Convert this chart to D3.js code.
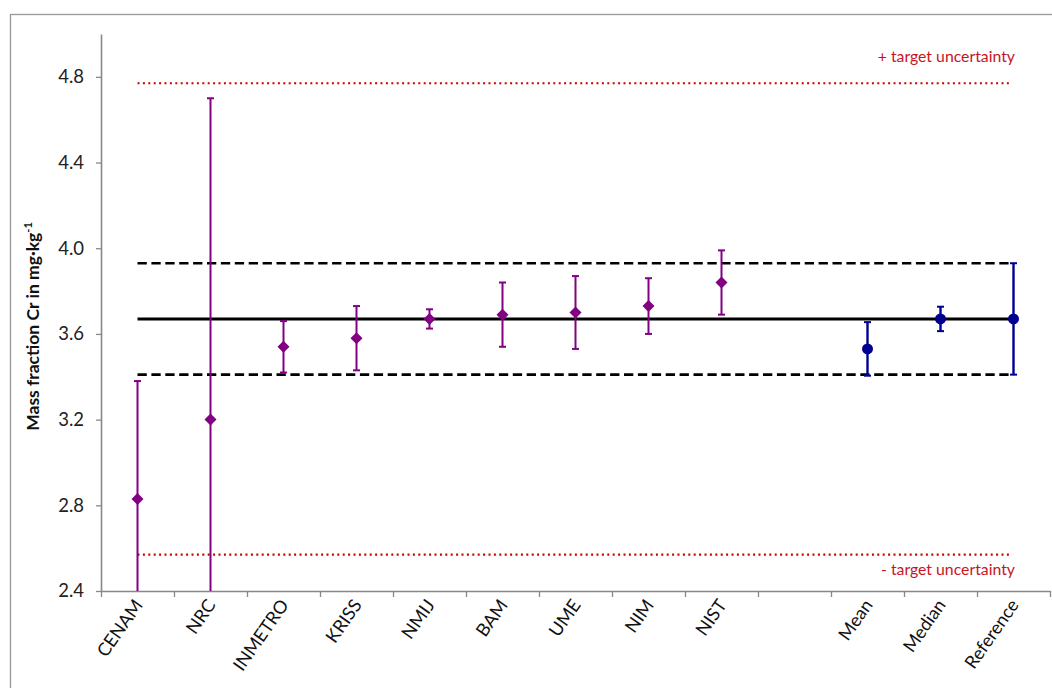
<!DOCTYPE html>
<html>
<head>
<meta charset="utf-8">
<script src="https://cdn.jsdelivr.net/npm/d3@7"></script>
<style>
  html, body { margin: 0; padding: 0; background: #fff; }
  svg { display: block; font-family: Lato, "Open Sans", sans-serif; }
</style>
</head>
<body>
<svg id="chart" width="1052" height="688"></svg>
<script>
// ---- data ----
const categories = ["CENAM", "NRC", "INMETRO", "KRISS", "NMIJ", "BAM", "UME", "NIM", "NIST", "", "Mean", "Median", "Reference"];
const labNames = ["CENAM", "NRC", "INMETRO", "KRISS", "NMIJ", "BAM", "UME", "NIM", "NIST"];
const labValues = [2.83, 3.20, 3.54, 3.58, 3.67, 3.69, 3.70, 3.73, 3.84];
const labUnc = [0.55, 1.50, 0.12, 0.15, 0.045, 0.15, 0.17, 0.13, 0.15];
const sumNames = ["Mean", "Median", "Reference"];
const sumValues = [3.53, 3.67, 3.67];
const sumUnc = [0.125, 0.057, 0.26];
const refValue = 3.67;
const refUnc = 0.26;
const targetUnc = 1.10;
const yTicks = [2.4, 2.8, 3.2, 3.6, 4.0, 4.4, 4.8];
const yDomain = [2.4, 5.0];

// ---- layout ----
const svg = d3.select("#chart");
const pL = 101, pR = 1050, pT = 34, pB = 591;
const purple = "#820082", navy = "#000090", red = "#cc0000", redText = "#c8141e", axisCol = "#888888";

// frame
svg.append("rect").attr("x", 10.5).attr("y", 14.5).attr("width", 1100).attr("height", 800)
  .attr("fill", "none").attr("stroke", "#999").attr("stroke-width", 1.3);

const y = d3.scaleLinear().domain(yDomain).range([pB, pT]);
const x = d3.scaleBand().domain(categories).range([pL, pR]).padding(0);
const xb = d3.scaleLinear().domain([0, categories.length]).range([pL, pR]);
const cx = d => x(d) + x.bandwidth() / 2;

// clip
svg.append("clipPath").attr("id", "plot").append("rect")
  .attr("x", pL).attr("y", pT - 20).attr("width", pR - pL + 10).attr("height", pB - pT + 20);

// y axis
const yAxis = svg.append("g").attr("transform", `translate(${pL},0)`)
  .call(d3.axisLeft(y).tickValues(yTicks).tickFormat(d3.format(".1f")).tickSize(5).tickPadding(12).tickSizeOuter(0));
yAxis.select(".domain").attr("stroke", axisCol).attr("stroke-width", 1.6);
yAxis.selectAll(".tick line").attr("stroke", axisCol).attr("stroke-width", 1.3);
yAxis.selectAll(".tick text").attr("font-size", 18.5).attr("fill", "#222").attr("font-family", "Lato, sans-serif");

// x axis
const xAxis = svg.append("g").attr("transform", `translate(0,${pB})`)
  .call(d3.axisBottom(xb).tickValues(d3.range(categories.length + 1)).tickFormat("").tickSize(6).tickSizeOuter(0));
xAxis.select(".domain").attr("stroke", axisCol).attr("stroke-width", 1.6);
xAxis.selectAll(".tick line").attr("stroke", axisCol).attr("stroke-width", 1.3);

svg.append("g").selectAll("text").data(categories.filter(c => c !== "")).join("text")
  .attr("transform", d => `translate(${cx(d) + 6},${pB + 14}) rotate(-55)`)
  .attr("text-anchor", "end").attr("font-size", 18).attr("fill", "#111")
  .text(d => d);

// y title
const yt = svg.append("text").attr("transform", `translate(39,${(pT + pB) / 2 + 14}) rotate(-90)`)
  .attr("text-anchor", "middle").attr("font-size", 17.5).attr("font-weight", "bold").attr("fill", "#111");
yt.append("tspan").text("Mass fraction Cr in mg·kg");
yt.append("tspan").attr("font-size", 11).attr("dy", -7).text("-1");

// reference lines
const x0 = cx(categories[0]), x1 = cx(categories[categories.length - 1]);
const g = svg.append("g");
g.append("line").attr("x1", x0).attr("x2", x1 - 4).attr("y1", y(refValue + targetUnc)).attr("y2", y(refValue + targetUnc))
  .attr("stroke", red).attr("stroke-width", 2.2).attr("stroke-dasharray", "2 3.4");
g.append("line").attr("x1", x0).attr("x2", x1 - 4).attr("y1", y(refValue - targetUnc)).attr("y2", y(refValue - targetUnc))
  .attr("stroke", red).attr("stroke-width", 2.2).attr("stroke-dasharray", "2 3.4");
[refValue + refUnc, refValue - refUnc].forEach(v => {
  g.append("line").attr("x1", x0).attr("x2", x1).attr("y1", y(v)).attr("y2", y(v))
    .attr("stroke", "#000").attr("stroke-width", 2.6).attr("stroke-dasharray", "9.3 4.6");
});
g.append("line").attr("x1", x0).attr("x2", x1).attr("y1", y(refValue)).attr("y2", y(refValue))
  .attr("stroke", "#000").attr("stroke-width", 3);

// target labels
svg.append("text").attr("x", 1015).attr("y", 62).attr("text-anchor", "end").attr("font-size", 15.8)
  .attr("fill", redText).text("+ target uncertainty");
svg.append("text").attr("x", 1015).attr("y", 575).attr("text-anchor", "end").attr("font-size", 15.8)
  .attr("fill", redText).text("- target uncertainty");

// error bars helper
function errorBars(names, vals, uncs, color, width) {
  const eg = svg.append("g").attr("clip-path", "url(#plot)");
  names.forEach((n, i) => {
    const px = cx(n), hi = y(vals[i] + uncs[i]), lo = y(vals[i] - uncs[i]);
    eg.append("line").attr("x1", px).attr("x2", px).attr("y1", hi).attr("y2", lo)
      .attr("stroke", color).attr("stroke-width", width);
    [hi, lo].forEach(yy => eg.append("line").attr("x1", px - 3.5).attr("x2", px + 3.5).attr("y1", yy).attr("y2", yy)
      .attr("stroke", color).attr("stroke-width", 2));
  });
}
errorBars(labNames, labValues, labUnc, purple, 2);
errorBars(sumNames, sumValues, sumUnc, navy, 2.4);

// markers
svg.append("g").selectAll("path").data(labNames).join("path")
  .attr("transform", (d, i) => `translate(${cx(d)},${y(labValues[i])})`)
  .attr("d", "M0,-6L6,0L0,6L-6,0Z").attr("fill", purple);
svg.append("g").selectAll("circle").data(sumNames).join("circle")
  .attr("cx", d => cx(d)).attr("cy", (d, i) => y(sumValues[i])).attr("r", 5.5).attr("fill", navy);
</script>
</body>
</html>
